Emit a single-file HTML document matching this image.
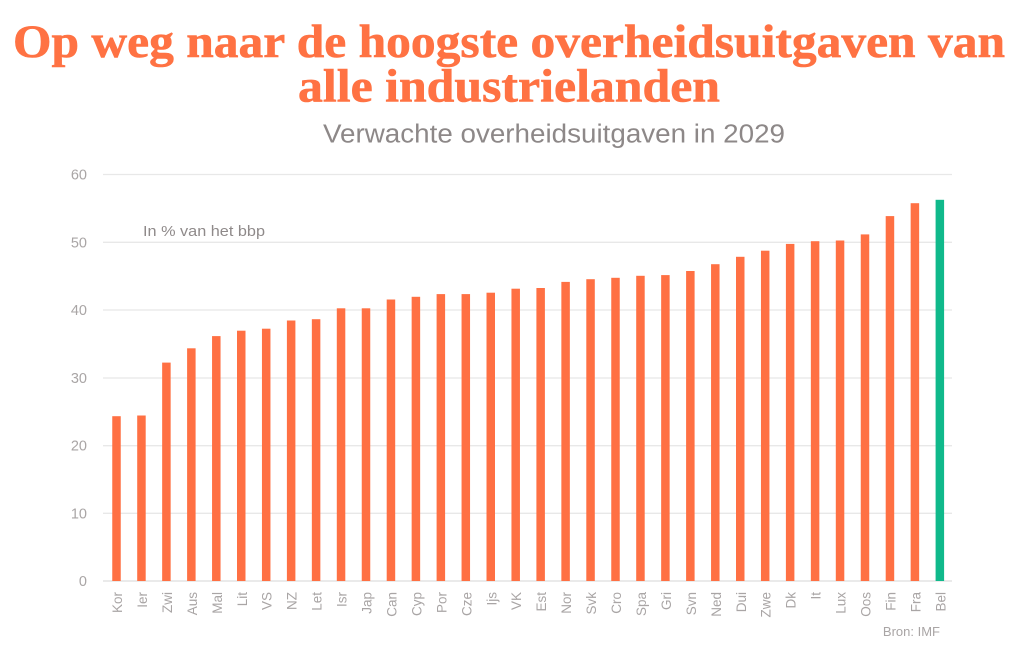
<!DOCTYPE html>
<html><head><meta charset="utf-8"><style>
html,body{margin:0;padding:0;background:#fff;}
svg{display:block;}
.t{font-family:"Liberation Serif",serif;font-weight:bold;fill:#ff7243;font-size:47px;stroke:#ff7243;stroke-width:0.6;}
.s{font-family:"Liberation Sans",sans-serif;fill:#8d8888;font-size:25.5px;}
.y{font-family:"Liberation Sans",sans-serif;fill:#a9a5a5;font-size:14.5px;text-anchor:end;}
.x{font-family:"Liberation Sans",sans-serif;fill:#a9a5a5;font-size:13.5px;text-anchor:end;}
.g{stroke:#e8e8e8;stroke-width:1.3;}
.b{fill:#ff7043;}
</style></head><body>
<svg width="1024" height="649" viewBox="0 0 1024 649" xmlns="http://www.w3.org/2000/svg">
<text class="t" x="13" y="57" textLength="992" lengthAdjust="spacingAndGlyphs">Op weg naar de hoogste overheidsuitgaven van</text>
<text class="t" x="298" y="101.5" textLength="422" lengthAdjust="spacingAndGlyphs">alle industrielanden</text>
<text class="s" x="323" y="142.5" textLength="462" lengthAdjust="spacingAndGlyphs">Verwachte overheidsuitgaven in 2029</text>

<line class="g" x1="103" y1="174.5" x2="952" y2="174.5"/>
<line class="g" x1="103" y1="242.3" x2="952" y2="242.3"/>
<line class="g" x1="103" y1="310" x2="952" y2="310"/>
<line class="g" x1="103" y1="378" x2="952" y2="378"/>
<line class="g" x1="103" y1="445.7" x2="952" y2="445.7"/>
<line class="g" x1="103" y1="513.3" x2="952" y2="513.3"/>
<line class="g" x1="103" y1="581" x2="952" y2="581" style="stroke:#e4e4e4;stroke-width:1.6"/>

<text class="y" x="87" y="179.5">60</text>
<text class="y" x="87" y="247.3">50</text>
<text class="y" x="87" y="315">40</text>
<text class="y" x="87" y="383">30</text>
<text class="y" x="87" y="450.7">20</text>
<text class="y" x="87" y="518.3">10</text>
<text class="y" x="87" y="586">0</text>

<text x="143" y="236" style="font-family:'Liberation Sans',sans-serif;font-size:15px;fill:#8f8a8a" textLength="122" lengthAdjust="spacingAndGlyphs">In % van het bbp</text>

<g>
<rect class="b" x="112.25" y="416.2" width="8.5" height="164.8"/>
<rect class="b" x="137.2" y="415.5" width="8.5" height="165.5"/>
<rect class="b" x="162.15" y="362.6" width="8.5" height="218.4"/>
<rect class="b" x="187.1" y="348.3" width="8.5" height="232.7"/>
<rect class="b" x="212.05" y="336.1" width="8.5" height="244.9"/>
<rect class="b" x="237.0" y="330.7" width="8.5" height="250.3"/>
<rect class="b" x="261.95" y="328.7" width="8.5" height="252.3"/>
<rect class="b" x="286.9" y="320.5" width="8.5" height="260.5"/>
<rect class="b" x="311.85" y="319.2" width="8.5" height="261.8"/>
<rect class="b" x="336.8" y="308.3" width="8.5" height="272.7"/>
<rect class="b" x="361.75" y="308.3" width="8.5" height="272.7"/>
<rect class="b" x="386.7" y="299.5" width="8.5" height="281.5"/>
<rect class="b" x="411.65" y="296.8" width="8.5" height="284.2"/>
<rect class="b" x="436.6" y="294.1" width="8.5" height="286.9"/>
<rect class="b" x="461.55" y="294.1" width="8.5" height="286.9"/>
<rect class="b" x="486.5" y="292.7" width="8.5" height="288.3"/>
<rect class="b" x="511.45" y="288.7" width="8.5" height="292.3"/>
<rect class="b" x="536.4" y="288.0" width="8.5" height="293.0"/>
<rect class="b" x="561.35" y="281.9" width="8.5" height="299.1"/>
<rect class="b" x="586.3" y="279.2" width="8.5" height="301.8"/>
<rect class="b" x="611.25" y="277.8" width="8.5" height="303.2"/>
<rect class="b" x="636.2" y="275.8" width="8.5" height="305.2"/>
<rect class="b" x="661.15" y="275.1" width="8.5" height="305.9"/>
<rect class="b" x="686.1" y="271.0" width="8.5" height="310.0"/>
<rect class="b" x="711.05" y="264.2" width="8.5" height="316.8"/>
<rect class="b" x="736.0" y="256.8" width="8.5" height="324.2"/>
<rect class="b" x="760.95" y="250.7" width="8.5" height="330.3"/>
<rect class="b" x="785.9" y="243.9" width="8.5" height="337.1"/>
<rect class="b" x="810.85" y="241.2" width="8.5" height="339.8"/>
<rect class="b" x="835.8" y="240.5" width="8.5" height="340.5"/>
<rect class="b" x="860.75" y="234.4" width="8.5" height="346.6"/>
<rect class="b" x="885.7" y="216.1" width="8.5" height="364.9"/>
<rect class="b" x="910.65" y="203.2" width="8.5" height="377.8"/>
<rect x="935.6" y="199.8" width="8.5" height="381.2" fill="#10b98b"/>
</g>

<g>
<text class="x" transform="translate(122,592) rotate(-90)">Kor</text>
<text class="x" transform="translate(146.95,592) rotate(-90)">Ier</text>
<text class="x" transform="translate(171.9,592) rotate(-90)">Zwi</text>
<text class="x" transform="translate(196.85,592) rotate(-90)">Aus</text>
<text class="x" transform="translate(221.8,592) rotate(-90)">Mal</text>
<text class="x" transform="translate(246.75,592) rotate(-90)">Lit</text>
<text class="x" transform="translate(271.7,592) rotate(-90)">VS</text>
<text class="x" transform="translate(296.65,592) rotate(-90)">NZ</text>
<text class="x" transform="translate(321.6,592) rotate(-90)">Let</text>
<text class="x" transform="translate(346.55,592) rotate(-90)">Isr</text>
<text class="x" transform="translate(371.5,592) rotate(-90)">Jap</text>
<text class="x" transform="translate(396.45,592) rotate(-90)">Can</text>
<text class="x" transform="translate(421.4,592) rotate(-90)">Cyp</text>
<text class="x" transform="translate(446.35,592) rotate(-90)">Por</text>
<text class="x" transform="translate(471.3,592) rotate(-90)">Cze</text>
<text class="x" transform="translate(496.25,592) rotate(-90)">Ijs</text>
<text class="x" transform="translate(521.2,592) rotate(-90)">VK</text>
<text class="x" transform="translate(546.15,592) rotate(-90)">Est</text>
<text class="x" transform="translate(571.1,592) rotate(-90)">Nor</text>
<text class="x" transform="translate(596.05,592) rotate(-90)">Svk</text>
<text class="x" transform="translate(621.0,592) rotate(-90)">Cro</text>
<text class="x" transform="translate(645.95,592) rotate(-90)">Spa</text>
<text class="x" transform="translate(670.9,592) rotate(-90)">Gri</text>
<text class="x" transform="translate(695.85,592) rotate(-90)">Svn</text>
<text class="x" transform="translate(720.8,592) rotate(-90)">Ned</text>
<text class="x" transform="translate(745.75,592) rotate(-90)">Dui</text>
<text class="x" transform="translate(770.7,592) rotate(-90)">Zwe</text>
<text class="x" transform="translate(795.65,592) rotate(-90)">Dk</text>
<text class="x" transform="translate(820.6,592) rotate(-90)">It</text>
<text class="x" transform="translate(845.55,592) rotate(-90)">Lux</text>
<text class="x" transform="translate(870.5,592) rotate(-90)">Oos</text>
<text class="x" transform="translate(895.45,592) rotate(-90)">Fin</text>
<text class="x" transform="translate(920.4,592) rotate(-90)">Fra</text>
<text class="x" transform="translate(945.35,592) rotate(-90)">Bel</text>
</g>

<text x="940" y="636" style="font-family:'Liberation Sans',sans-serif;font-size:13px;fill:#a9a5a5;text-anchor:end">Bron: IMF</text>
</svg>
</body></html>
